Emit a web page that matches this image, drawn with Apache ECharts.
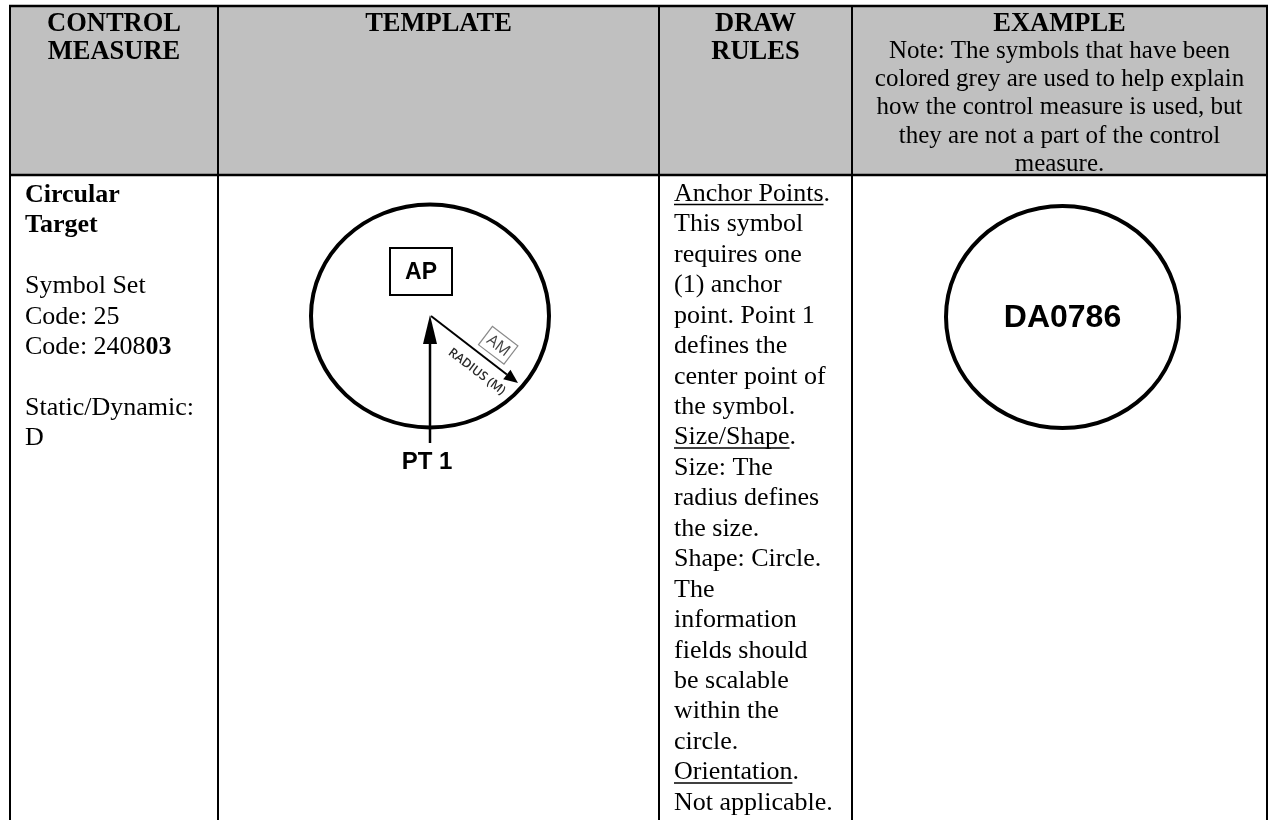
<!DOCTYPE html>
<html>
<head>
<meta charset="utf-8">
<script src="https://cdn.jsdelivr.net/npm/echarts@6/dist/echarts.min.js"></script>
<style>
html,body{margin:0;padding:0;background:#fff;}
#c{width:1269px;height:820px;}
</style>
</head>
<body>
<div id="c"></div>
<script>
// ---------------- content (texts) ----------------
const columnEdges = [10, 218, 659, 852, 1267];
const rowEdges = [6, 175];
const headerTitles = [['CONTROL', 'MEASURE'], ['TEMPLATE'], ['DRAW', 'RULES'], ['EXAMPLE']];
const headerNote = [
  'Note: The symbols that have been',
  'colored grey are used to help explain',
  'how the control measure is used, but',
  'they are not a part of the control',
  'measure.'
];
const measureLines = ['{b|Circular}', '{b|Target}', '', 'Symbol Set', 'Code: 25', 'Code: 2408{b|03}', '', 'Static/Dynamic:', 'D'];
const ruleLines = [
  'Anchor Points.', 'This symbol', 'requires one', '(1) anchor', 'point. Point 1', 'defines the',
  'center point of', 'the symbol.', 'Size/Shape.', 'Size: The', 'radius defines', 'the size.',
  'Shape: Circle.', 'The', 'information', 'fields should', 'be scalable', 'within the', 'circle.',
  'Orientation.', 'Not applicable.'
];
const underlinedHeadings = ['Anchor Points', 'Size/Shape', 'Orientation'];
const templateLabels = { anchor: 'AP', point: 'PT 1', radius: 'RADIUS (M)', radiusBox: 'AM' };
const exampleLabels = ['DA0786'];

// ---------------- layout (kept separate from content) ----------------
const L = {
  top: 6, bottom: 820,
  titleY: 24, titleLH: 28.5,
  noteY: 51.5, noteLH: 28.2,
  bodyY: 194, bodyLH: 30.45,
  measureX: 25, rulesX: 674,
  tpl: { cx: 430, cy: 316, rx: 119, ry: 111.5, apX: 390, apY: 248, apW: 62, apH: 47,
         arrowBottom: 443, ptY: 462, tipX: 518, tipY: 383 },
  ex: { cx: 1062.5, cy: 317, rx: 116.5, ry: 111 }
};
const SERIF = '"Liberation Serif","Times New Roman",serif';
const SANS = '"Liberation Sans",Arial,sans-serif';
const OPEN = '"Open Sans","DejaVu Sans",sans-serif';
const bodyFont = '26px ' + SERIF;

const mctx = document.createElement('canvas').getContext('2d');
function textWidth(t, font) { mctx.font = font; return mctx.measureText(t).width; }

const colCenters = columnEdges.slice(0, -1).map((x, i) => (x + columnEdges[i + 1]) / 2);

const chart = echarts.init(document.getElementById('c'), null, { renderer: 'canvas' });

function base(name, data, renderItem, z) {
  return { type: 'custom', name, coordinateSystem: 'cartesian2d', data, renderItem,
           silent: true, clip: false, animation: false, z: z || 2 };
}

const option = {
  animation: false,
  grid: { left: 0, right: 0, top: 0, bottom: 0 },
  xAxis: { type: 'value', min: 0, max: 1269, show: false },
  yAxis: { type: 'value', min: 0, max: 820, inverse: true, show: false },
  series: [
    // header fill
    base('headerFill', [[columnEdges[0], rowEdges[0]]], function (params, api) {
      const a = api.coord([columnEdges[0], rowEdges[0]]);
      const b = api.coord([columnEdges[columnEdges.length - 1], rowEdges[1]]);
      return { type: 'rect', shape: { x: a[0], y: a[1], width: b[0] - a[0], height: b[1] - a[1] },
               style: { fill: '#c0c0c0' } };
    }, 1),
    // horizontal rules
    base('hlines', rowEdges.map(y => [columnEdges[0], y]), function (params, api) {
      const a = api.coord([columnEdges[0] - 1, api.value(1)]);
      const b = api.coord([columnEdges[columnEdges.length - 1] + 1, api.value(1)]);
      return { type: 'line', shape: { x1: a[0], y1: a[1], x2: b[0], y2: b[1] },
               style: { stroke: '#000', lineWidth: 2.5 } };
    }, 5),
    // vertical rules
    base('vlines', columnEdges.map(x => [x, L.top]), function (params, api) {
      const a = api.coord([api.value(0), L.top - 1]);
      const b = api.coord([api.value(0), L.bottom + 2]);
      return { type: 'line', shape: { x1: a[0], y1: a[1], x2: b[0], y2: b[1] },
               style: { stroke: '#000', lineWidth: 2 } };
    }, 5),
    // header titles
    base('titles', colCenters.map((x, i) => [x, L.titleY]), function (params, api) {
      const lines = headerTitles[params.dataIndex];
      const children = lines.map((t, k) => {
        const p = api.coord([api.value(0), api.value(1) + k * L.titleLH]);
        return { type: 'text', x: p[0], y: p[1],
                 style: { text: t, fill: '#000', font: 'bold 26.5px ' + SERIF, align: 'center', verticalAlign: 'middle' } };
      });
      return { type: 'group', children };
    }),
    // header note
    base('note', headerNote.map((t, k) => [colCenters[3], L.noteY + k * L.noteLH]), function (params, api) {
      const p = api.coord([api.value(0), api.value(1)]);
      return { type: 'text', x: p[0], y: p[1],
               style: { text: headerNote[params.dataIndex], fill: '#000', font: '25px ' + SERIF, align: 'center', verticalAlign: 'middle' } };
    }),
    // control measure column
    base('measure', measureLines.map((t, k) => [L.measureX, L.bodyY + 1 + k * L.bodyLH]), function (params, api) {
      const p = api.coord([api.value(0), api.value(1)]);
      return { type: 'text', x: p[0], y: p[1],
               style: { text: measureLines[params.dataIndex], fill: '#000', font: bodyFont, align: 'left', verticalAlign: 'middle',
                        rich: { b: { font: 'bold 26px ' + SERIF, fill: '#000' } } } };
    }),
    // draw rules column
    base('rules', ruleLines.map((t, k) => [L.rulesX, L.bodyY + k * L.bodyLH]), function (params, api) {
      const line = ruleLines[params.dataIndex];
      const p = api.coord([api.value(0), api.value(1)]);
      const children = [{ type: 'text', x: p[0], y: p[1],
        style: { text: line, fill: '#000', font: bodyFont, align: 'left', verticalAlign: 'middle' } }];
      const h = underlinedHeadings.find(u => line.indexOf(u) === 0);
      if (h) {
        const w = textWidth(h, bodyFont);
        children.push({ type: 'line', shape: { x1: p[0], y1: p[1] + 10.5, x2: p[0] + w, y2: p[1] + 10.5 },
                        style: { stroke: '#000', lineWidth: 1.5 } });
      }
      return { type: 'group', children };
    }),
    // template diagram
    base('template', [[L.tpl.cx, L.tpl.cy]], function (params, api) {
      const T = L.tpl;
      const c = api.coord([T.cx, T.cy]);
      const ap = api.coord([T.apX, T.apY]);
      const apSize = api.size([T.apW, T.apH]);
      const bot = api.coord([T.cx, T.arrowBottom]);
      const tip = api.coord([T.tipX, T.tipY]);
      const pt = api.coord([T.cx - 3, T.ptY]);
      const headLen = 28, headHalf = 7;
      const dx = tip[0] - c[0], dy = tip[1] - c[1];
      const len = Math.sqrt(dx * dx + dy * dy);
      const ux = dx / len, uy = dy / len, nx = -uy, ny = ux;
      const rHead = 14, rHalf = 6;
      const bx = tip[0] - rHead * ux, by = tip[1] - rHead * uy;
      const ang = -Math.atan2(dy, dx);
      const along = 71;
      const txtC = [c[0] + along * ux + 16 * nx, c[1] + along * uy + 16 * ny];
      const boxC = [c[0] + (along + 1) * ux - 18 * nx, c[1] + (along + 1) * uy - 18 * ny];
      return { type: 'group', children: [
        { type: 'ellipse', shape: { cx: c[0], cy: c[1], rx: T.rx, ry: T.ry },
          style: { fill: null, stroke: '#000', lineWidth: 4 } },
        { type: 'rect', shape: { x: ap[0], y: ap[1], width: apSize[0], height: apSize[1] },
          style: { fill: '#fff', stroke: '#000', lineWidth: 2 } },
        { type: 'text', x: ap[0] + apSize[0] / 2, y: ap[1] + apSize[1] / 2 + 1,
          style: { text: templateLabels.anchor, font: 'bold 23px ' + SANS, fill: '#000', align: 'center', verticalAlign: 'middle' } },
        { type: 'line', shape: { x1: bot[0], y1: bot[1], x2: c[0], y2: c[1] + headLen - 2 },
          style: { stroke: '#000', lineWidth: 2.5 } },
        { type: 'polygon', shape: { points: [[c[0], c[1] - 1], [c[0] - headHalf, c[1] + headLen], [c[0] + headHalf, c[1] + headLen]] },
          style: { fill: '#000' } },
        { type: 'text', x: pt[0], y: pt[1],
          style: { text: templateLabels.point, font: 'bold 24px ' + SANS, fill: '#000', align: 'center', verticalAlign: 'middle' } },
        { type: 'line', shape: { x1: c[0] + 1, y1: c[1], x2: bx, y2: by },
          style: { stroke: '#000', lineWidth: 2 } },
        { type: 'polygon', shape: { points: [[tip[0], tip[1]], [bx + rHalf * nx, by + rHalf * ny], [bx - rHalf * nx, by - rHalf * ny]] },
          style: { fill: '#000' } },
        { type: 'text', x: txtC[0], y: txtC[1], rotation: ang,
          style: { text: templateLabels.radius, font: '600 12.5px ' + OPEN, fill: '#2a2a2a', align: 'center', verticalAlign: 'middle' } },
        { type: 'rect', x: boxC[0], y: boxC[1], rotation: ang, shape: { x: -16, y: -11.5, width: 32, height: 23 },
          style: { fill: '#fff', stroke: '#8a8a8a', lineWidth: 1.2 } },
        { type: 'text', x: boxC[0], y: boxC[1] + 0.5, rotation: ang,
          style: { text: templateLabels.radiusBox, font: '16px ' + OPEN, fill: '#444', align: 'center', verticalAlign: 'middle' } }
      ] };
    }, 3),
    // example
    base('example', [[L.ex.cx, L.ex.cy]], function (params, api) {
      const c = api.coord([api.value(0), api.value(1)]);
      return { type: 'group', children: [
        { type: 'ellipse', shape: { cx: c[0], cy: c[1], rx: L.ex.rx, ry: L.ex.ry },
          style: { fill: null, stroke: '#000', lineWidth: 4 } },
        { type: 'text', x: c[0], y: c[1] + 1,
          style: { text: exampleLabels[0], font: 'bold 32px ' + SANS, fill: '#000', align: 'center', verticalAlign: 'middle' } }
      ] };
    }, 3)
  ]
};
chart.setOption(option);
</script>
</body>
</html>
